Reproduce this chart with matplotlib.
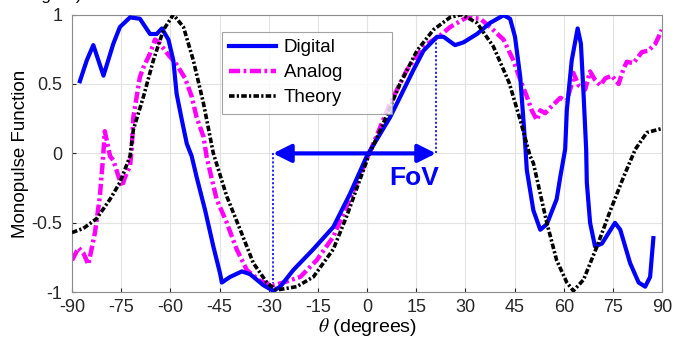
import matplotlib
matplotlib.use("Agg")
import matplotlib.pyplot as plt

plt.rcParams['font.family'] = ['Liberation Sans', 'DejaVu Sans']
plt.rcParams['mathtext.fontset'] = 'stix'
plt.rcParams['axes.unicode_minus'] = False
plt.rcParams['lines.scale_dashes'] = False

# Digital measurement
dig_theta = [-87.6, -85.5, -83.5, -80.4, -77.4, -75.4, -72.3, -69.3, -66.2, -64.2,
             -62.6, -60.6, -59.1, -58.1, -56.5, -55.0, -53.5, -52.0, -49.4, -46.9,
             -44.9, -44.3, -41.8, -38.2, -35.7, -31.6, -28.6, -26.5, -22.5, -16.4,
             -10.3, -5.2, -0.1, 7.0, 14.1, 17.2, 21.3, 23.3, 26.8, 29.4,
             33.5, 37.5, 41.6, 43.6, 45.1, 46.7, 48.2, 48.7, 50.7, 52.8,
             54.8, 57.8, 58.9, 60.4, 60.9, 62.4, 64.2, 65.2, 66.0, 66.8,
             67.0, 68.0, 69.5, 71.6, 75.6, 77.2, 80.2, 82.8, 84.8, 86.3, 87.3]
dig_val = [0.52, 0.67, 0.78, 0.56, 0.79, 0.91, 0.98, 0.97, 0.86, 0.86,
           0.90, 0.82, 0.67, 0.43, 0.24, 0.07, -0.02, -0.17, -0.41, -0.67,
           -0.86, -0.93, -0.89, -0.85, -0.87, -0.95, -0.99, -0.96, -0.84, -0.69,
           -0.53, -0.29, -0.02, 0.26, 0.60, 0.74, 0.84, 0.84, 0.78, 0.80,
           0.86, 0.94, 0.995, 0.97, 0.84, 0.55, 0.07, -0.12, -0.41, -0.55,
           -0.51, -0.33, -0.17, 0.03, 0.31, 0.67, 0.90, 0.79, 0.43, 0.03,
           -0.21, -0.50, -0.67, -0.65, -0.50, -0.55, -0.79, -0.93, -0.96, -0.89, -0.61]

# Analog measurement
ana_theta = [-90.0, -88.0, -86.5, -85.0, -83.0, -81.5, -80.5, -80.0, -78.4, -77.4,
             -74.8, -73.8, -72.3, -71.8, -71.3, -69.3, -68.2, -66.2, -64.7, -63.2,
             -60.6, -58.1, -55.5, -53.5, -52.0, -49.9, -48.9, -45.9, -42.8, -39.8,
             -36.7, -32.6, -28.6, -25.5, -20.4, -15.4, -10.3, -6.2, 1.9, 7.0,
             12.1, 17.2, 22.3, 25.3, 30.4, 34.5, 37.5, 41.6, 44.6, 46.7,
             48.7, 50.2, 51.8, 52.8, 54.3, 56.3, 58.9, 60.9, 62.4, 62.9,
             64.5, 66.5, 68.0, 69.5, 71.1, 72.6, 74.6, 76.7, 78.2, 79.2,
             81.2, 83.8, 85.8, 87.9, 89.9]
ana_val = [-0.77, -0.68, -0.72, -0.80, -0.57, -0.31, -0.02, 0.16, -0.02, -0.05,
           -0.24, -0.17, -0.09, 0.03, 0.26, 0.55, 0.62, 0.72, 0.82, 0.79,
           0.71, 0.64, 0.54, 0.41, 0.26, 0.12, -0.03, -0.33, -0.50, -0.69,
           -0.84, -0.92, -0.95, -0.93, -0.89, -0.77, -0.60, -0.38, 0.07, 0.36,
           0.60, 0.77, 0.85, 0.91, 0.98, 0.97, 0.91, 0.82, 0.67, 0.53,
           0.41, 0.31, 0.24, 0.31, 0.29, 0.34, 0.40, 0.38, 0.50, 0.58,
           0.49, 0.46, 0.59, 0.53, 0.49, 0.54, 0.56, 0.50, 0.61, 0.66,
           0.65, 0.73, 0.74, 0.79, 0.89]

# Theory
th_theta = [-90.0, -86.5, -82.5, -78.4, -75.4, -72.3, -71.3, -68.2, -65.2, -62.1,
            -59.1, -56.0, -53.0, -49.9, -46.9, -42.8, -38.7, -34.7, -30.6, -28.0,
            -26.5, -21.5, -16.4, -10.3, -6.2, 0.4, 5.0, 10.0, 15.2, 20.2,
            25.3, 28.9, 33.5, 38.5, 43.3, 46.7, 49.7, 50.7, 54.8, 57.8,
            60.9, 62.9, 66.0, 70.1, 74.2, 78.2, 81.8, 85.3, 90.0]
th_val = [-0.57, -0.54, -0.47, -0.33, -0.21, -0.02, 0.17, 0.41, 0.67, 0.89,
          1.0, 0.91, 0.67, 0.36, 0.0, -0.31, -0.55, -0.79, -0.93, -0.98,
          -0.98, -0.96, -0.89, -0.69, -0.45, -0.02, 0.22, 0.50, 0.74, 0.89,
          0.98, 1.0, 0.94, 0.77, 0.51, 0.24, -0.02, -0.07, -0.50, -0.77,
          -0.93, -0.99, -0.91, -0.67, -0.41, -0.17, 0.03, 0.15, 0.18]

fov_left = -28.7
fov_right = 21.0
x_ticks = [-90, -75, -60, -45, -30, -15, 0, 15, 30, 45, 60, 75, 90]
y_ticks = [-1, -0.5, 0, 0.5, 1]
y_labels = ['-1', '-0.5', '0', '0.5', '1']

fig = plt.figure(figsize=(6.73, 3.39), dpi=100)
ax = fig.add_axes([0.107, 0.138, 0.877, 0.819])

ax.plot(dig_theta, dig_val, color='#0000ff', linewidth=3.0, label='Digital', zorder=3)
ax.plot(ana_theta, ana_val, color='#ff00ff', linewidth=3.2,
        linestyle=(0, (8, 2.5, 2, 2.5)), label='Analog' + '\u00a0' * 8, zorder=2)
ax.plot(th_theta, th_val, color='black', linewidth=2.6,
        linestyle=(0, (4, 1.6, 1.6, 1.6)), label='Theory', zorder=4)

# FoV markers
ax.plot([fov_left, fov_left], [0, -0.93], color='#0000ff', linestyle=(0, (1.5, 1.5)), linewidth=1.2)
ax.plot([fov_right, fov_right], [0, 0.84], color='#0000ff', linestyle=(0, (1.5, 1.5)), linewidth=1.2)
ax.annotate('', xy=(fov_left, 0), xytext=(fov_right, 0),
            arrowprops=dict(arrowstyle='<|-|>,head_length=0.6,head_width=0.3', color='#0000ff', lw=3,
                            mutation_scale=18, shrinkA=0, shrinkB=0), zorder=5)
ax.text(14.3, -0.18, 'FoV', color='#0000ff', fontsize=19, fontweight='bold',
        ha='center', va='center')

ax.set_xlim(-90, 90)
ax.set_ylim(-1, 1)
ax.set_xticks(x_ticks)
ax.set_yticks(y_ticks)
ax.set_yticklabels(y_labels)
ax.tick_params(direction='in', length=3, labelsize=13, colors='#262626')
ax.tick_params(axis='x', pad=5)
ax.tick_params(axis='y', pad=7)
ax.grid(True, color='#e3e3e3', linewidth=0.8)
ax.set_axisbelow(True)
for s in ax.spines.values():
    s.set_color('#8c8c8c')
    s.set_linewidth(0.8)

ax.set_xlabel(r'$\theta$ (degrees)', fontsize=14, labelpad=0)
ax.set_ylabel('Monopulse Function', fontsize=13.5, labelpad=2)

leg = ax.legend(loc='upper left', bbox_to_anchor=(0.254, 0.938), borderaxespad=0,
                fontsize=13.5, handlelength=2.5, frameon=True, fancybox=False,
                borderpad=0.4, labelspacing=0.42, handletextpad=0.4)
leg.get_frame().set_edgecolor('#8c8c8c')
leg.get_frame().set_linewidth(0.8)

# clipped caption fragment at the top edge
fig.text(82 / 673, 1.0, 'degree)', ha='right', va='baseline', fontsize=12.5)

fig.savefig('out.png', dpi=100)
